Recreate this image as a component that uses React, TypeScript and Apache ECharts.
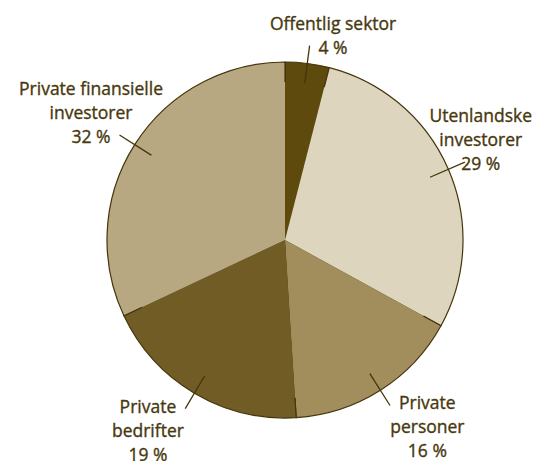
import React, { useEffect, useRef } from "react";
import * as echarts from "echarts";

// ---- data ----
const categories: string[] = [
  "Offentlig sektor",
  "Utenlandske\ninvestorer",
  "Private\npersoner",
  "Private\nbedrifter",
  "Private finansielle\ninvestorer",
];
const shares: number[] = [4, 29, 16, 19, 32];
const sliceColors: string[] = ["#5d4a0c", "#ddd5bd", "#a28e5d", "#705c24", "#b8a882"];

const TEXT_COLOR = "#47380e";
const EDGE_COLOR = "#44350b";
const FONT_FAMILY = '"Open Sans", "Noto Sans", sans-serif';
const FONT_SIZE = 17.5;
const LINE_HEIGHT = 24;
const CHART_W = 538;

let measureCtx: CanvasRenderingContext2D | null = null;
function textWidth(s: string): number {
  if (!measureCtx) {
    const c = document.createElement("canvas");
    measureCtx = c.getContext("2d");
  }
  if (!measureCtx) return s.length * FONT_SIZE * 0.5;
  measureCtx.font = `${FONT_SIZE}px ${FONT_FAMILY}`;
  return measureCtx.measureText(s).width;
}

export default function App() {
  const ref = useRef<HTMLDivElement>(null);

  useEffect(() => {
    if (!ref.current) return;
    const chart = echarts.init(ref.current, undefined, { renderer: "svg" });
    const data = categories.map((name, i) => ({
      name,
      value: shares[i],
      itemStyle: { color: sliceColors[i] },
    }));

    const option: any = {
      animation: false,
      backgroundColor: "#ffffff",
      series: [
        {
          type: "pie",
          z: 1,
          center: [285, 240],
          radius: 178,
          startAngle: 90,
          clockwise: true,
          silent: true,
          label: { show: false },
          labelLine: { show: false },
          itemStyle: { borderColor: EDGE_COLOR, borderWidth: 1.2 },
          data,
        },
        {
          type: "pie",
          z: 5,
          center: [285, 240],
          radius: 158,
          startAngle: 90,
          clockwise: true,
          silent: true,
          avoidLabelOverlap: false,
          itemStyle: { color: "rgba(0,0,0,0)", borderWidth: 0 },
          label: {
            show: true,
            position: "outside",
            formatter: (p: any) => `${p.name}\n${p.value} %`,
            color: TEXT_COLOR,
            fontFamily: FONT_FAMILY,
            fontSize: FONT_SIZE,
            lineHeight: LINE_HEIGHT,
            align: "center",
            textBorderColor: TEXT_COLOR,
            textBorderWidth: 0.35,
          },
          labelLine: {
            show: true,
            length: 38,
            length2: 0,
            lineStyle: { color: EDGE_COLOR, width: 1.3 },
          },
          labelLayout: (params: any) => {
            const pts = params.labelLinePoints;
            if (!pts || pts.length < 2) return {};
            const p0 = pts[0];
            const p1 = pts[1];
            const right = p1[0] >= p0[0];
            const upper = p1[1] < p0[1];
            const idx = params.dataIndex;
            const lines = categories[idx].split("\n").concat([`${shares[idx]} %`]);
            const near = upper ? lines[lines.length - 1] : lines[0];
            const w = textWidth(near);
            const blockW = Math.max(...lines.map(textWidth));
            const gap = 9;
            let x = right ? p1[0] + gap + w / 2 : p1[0] - gap - w / 2;
            // keep the label block inside the chart
            x = Math.min(x, CHART_W - 6 - blockW / 2);
            x = Math.max(x, 6 + blockW / 2);
            const y = upper ? p1[1] + 1 + LINE_HEIGHT / 2 : p1[1] - 3 - LINE_HEIGHT / 2;
            return {
              x,
              y,
              align: "center",
              verticalAlign: upper ? "bottom" : "top",
              labelLinePoints: [
                [p0[0], p0[1]],
                [p1[0], p1[1]],
              ],
            };
          },
          data,
        },
      ],
    };
    chart.setOption(option);
    return () => chart.dispose();
  }, []);

  return (
    <div
      ref={ref}
      style={{ position: "absolute", left: 0, top: 0, width: 538, height: 461 }}
    />
  );
}
